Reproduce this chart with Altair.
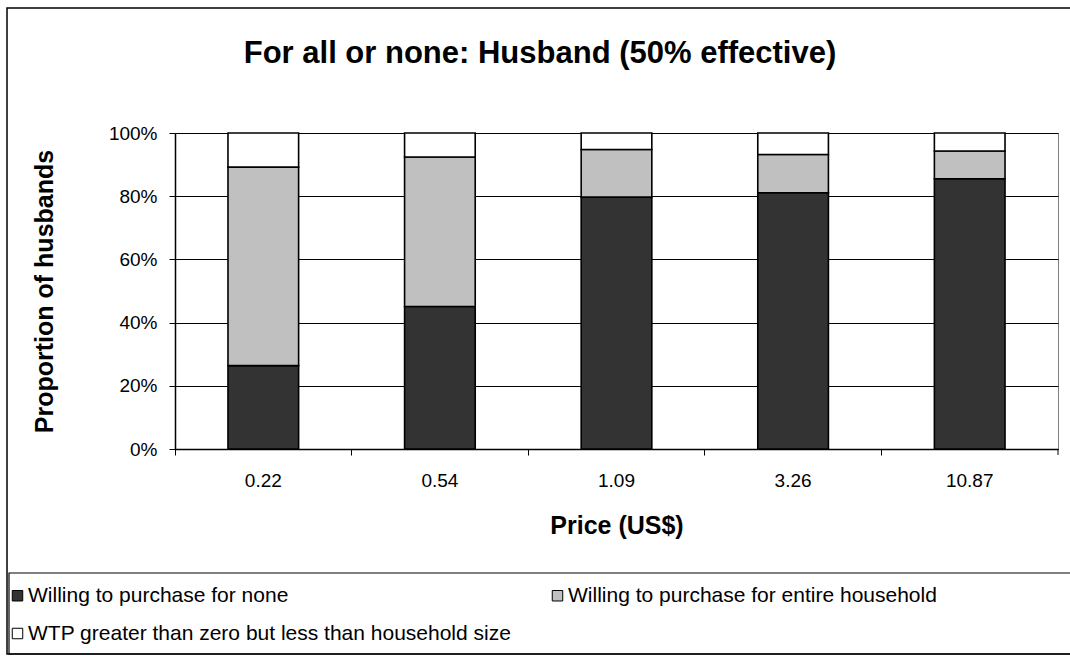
import altair as alt
import pandas as pd

# Price points (US$) on the x axis
prices = ["0.22", "0.54", "1.09", "3.26", "10.87"]

# Response groups, bottom to top of each stack
series = [
    "Willing to purchase for none",
    "Willing to purchase for entire household",
    "WTP greater than zero but less than household size",
]
series_colors = ["#333333", "#C0C0C0", "#FFFFFF"]

# Share of husbands (%) in each group at each price
pct_none = [26.4, 45.1, 79.7, 81.1, 85.5]
pct_entire = [62.8, 47.3, 15.1, 12.1, 8.8]
pct_partial = [10.8, 7.6, 5.2, 6.8, 5.7]

y_ticks = [0, 20, 40, 60, 80, 100]

chart_title = "For all or none: Husband (50% effective)"

rows = []
for i, price in enumerate(prices):
    for k, vals in enumerate([pct_none, pct_entire, pct_partial]):
        rows.append({"price": price, "group": series[k], "share": vals[i], "rank": k})
df = pd.DataFrame(rows)

FONT = "Liberation Sans"
W, H = 883, 316          # plot area
LEFT, TOP = 175, 133     # plot origin inside the 1070 x 658 canvas

bars = alt.Chart(df).mark_bar(
    width=alt.RelativeBandSize(0.4), stroke="black", strokeWidth=1.6
).encode(
    x=alt.X(
        "price:N",
        sort=prices,
        scale=alt.Scale(paddingInner=0, paddingOuter=0),
        axis=alt.Axis(
            title="Price (US$)",
            labelAngle=0,
            bandPosition=0,
            grid=False,
            domainColor="black",
            domainWidth=1.5,
            tickColor="black",
            tickSize=6,
            labelFont=FONT,
            labelFontSize=19,
            labelColor="black",
            labelPadding=16,
            titleFont=FONT,
            titleFontSize=25,
            titleFontWeight="bold",
            titleColor="black",
            titleBaseline="alphabetic",
            titleY=84,
        ),
    ),
    y=alt.Y(
        "share:Q",
        stack="zero",
        scale=alt.Scale(domain=[0, 100], nice=False),
        axis=alt.Axis(
            title="Proportion of husbands",
            values=y_ticks,
            labelExpr="datum.value + '%'",
            grid=True,
            gridColor="black",
            gridWidth=1,
            domainColor="black",
            domainWidth=1.5,
            tickColor="black",
            tickSize=6,
            labelFont=FONT,
            labelFontSize=19,
            labelColor="black",
            labelPadding=12,
            titleFont=FONT,
            titleFontSize=25,
            titleFontWeight="bold",
            titleColor="black",
            titleAngle=270,
            titleBaseline="alphabetic",
            titleX=-123,
            titleY=H / 2,
        ),
    ),
    color=alt.Color(
        "group:N",
        scale=alt.Scale(domain=series, range=series_colors),
        legend=alt.Legend(
            title=None,
            orient="none",
            legendX=-168,
            legendY=452,
            direction="horizontal",
            columns=2,
            columnPadding=35,
            rowPadding=16,
            symbolType="square",
            symbolSize=110,
            symbolStrokeColor="black",
            symbolStrokeWidth=1,
            symbolOpacity=1,
            labelFont=FONT,
            labelFontSize=21,
            labelColor="black",
            labelLimit=700,
            labelOffset=0,
        ),
    ),
    order=alt.Order("rank:Q"),
)

# Closing tick at the right end of the category axis
end_tick = alt.Chart(pd.DataFrame({"tick": ["end"]})).mark_rule(
    color="black", strokeWidth=1
).encode(x=alt.value(W), y=alt.value(H), y2=alt.value(H + 6))

# Chart heading
heading = alt.Chart(pd.DataFrame({"label": [chart_title]})).mark_text(
    font=FONT, fontSize=31, fontWeight="bold", color="black",
    align="center", baseline="alphabetic",
).encode(text="label:N", x=alt.value(540 - LEFT), y=alt.value(63 - TOP))

# Outer chart border and the legend box
outer = alt.Chart(pd.DataFrame({"box": ["chart"]})).mark_rect(
    filled=False, stroke="black", strokeWidth=1.5
).encode(
    x=alt.value(7 - LEFT), x2=alt.value(1078 - LEFT),
    y=alt.value(8 - TOP), y2=alt.value(654 - TOP),
)
legend_box = alt.Chart(pd.DataFrame({"box": ["legend"]})).mark_rect(
    filled=False, stroke="black", strokeWidth=1.2
).encode(
    x=alt.value(9 - LEFT), x2=alt.value(1078 - LEFT),
    y=alt.value(573 - TOP), y2=alt.value(654 - TOP),
)

chart = alt.layer(outer, legend_box, heading, bars, end_tick).properties(
    width=W,
    height=H,
    padding={"left": LEFT, "top": TOP, "right": 1070 - LEFT - W, "bottom": 658 - TOP - H},
    autosize=alt.AutoSizeParams(type="none"),
    background="white",
).configure_view(stroke="#808080", strokeWidth=1)

chart.save("out.html", embed_options={"renderer": "svg", "actions": False})
